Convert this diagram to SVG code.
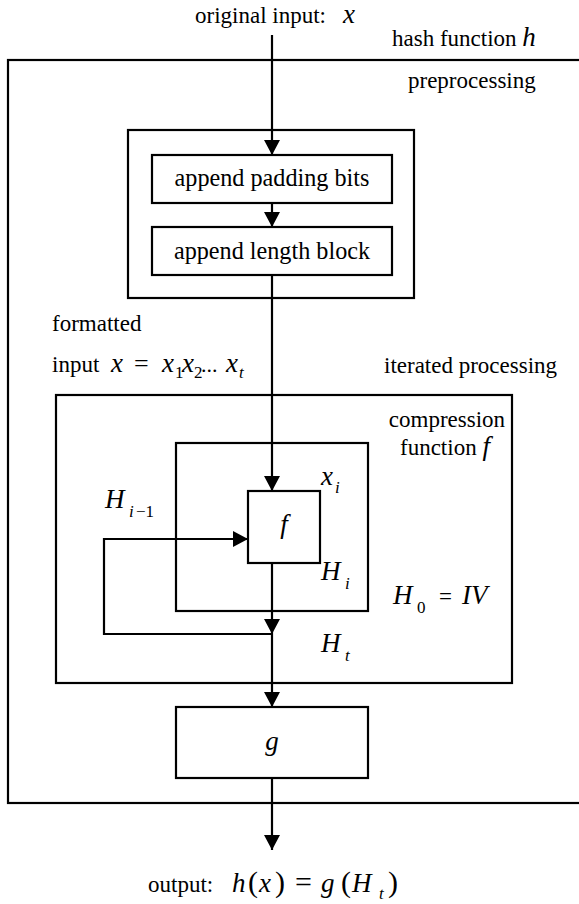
<svg xmlns="http://www.w3.org/2000/svg" width="579" height="904" viewBox="0 0 579 904">
<style>
.box{fill:none;stroke:#000;stroke-width:2.2}
.ln{fill:none;stroke:#000;stroke-width:2.2}
text{font-family:'Liberation Serif','Times New Roman','DejaVu Serif',serif;fill:#000}
.t{font-size:23px}
.bt{font-size:24.2px}
.m{font-style:italic;font-size:27px}
.s{font-style:italic;font-size:17px}
.sn{font-size:17px}
</style>
<defs>
<marker id="ah" markerUnits="userSpaceOnUse" markerWidth="16" markerHeight="16" refX="15" refY="8" orient="auto" viewBox="0 0 16 16">
<path d="M0,0 L15,8 L0,16 z" fill="#000"/>
</marker>
</defs>
<rect width="579" height="904" fill="#fff"/>

<g id="hash-function">
<rect class="box" x="8" y="60" width="600" height="743"/>
<text class="t" x="392" y="46">hash function <tspan class="m" font-size="26">h</tspan></text>
</g>

<g id="preprocessing">
<rect class="box" x="128" y="130" width="286" height="168"/>
<text class="t" x="408" y="88" font-size="23.6">preprocessing</text>
</g>

<g id="append-padding">
<rect class="box" x="152" y="155" width="240" height="48"/>
<text class="bt" x="272" y="186" text-anchor="middle">append padding bits</text>
</g>

<g id="append-length">
<rect class="box" x="152" y="227" width="240" height="48"/>
<text class="bt" x="272" y="259" text-anchor="middle">append length block</text>
</g>

<g id="iterated">
<rect class="box" x="56" y="395" width="456" height="288"/>
<text class="t" x="384" y="373" font-size="24">iterated processing</text>
<text class="m" x="393" y="604" font-size="30">H</text>
<text class="sn" x="417" y="613">0</text>
<text class="t" x="439" y="604" font-size="26">=</text>
<text class="m" x="462" y="604" font-size="30">IV</text>
</g>

<g id="compression">
<rect class="box" x="176" y="443" width="192" height="168"/>
<text class="t" x="447" y="427" text-anchor="middle">compression</text>
<text class="t" x="400" y="455">function <tspan class="m" font-size="26">f</tspan></text>
</g>

<g id="f-box">
<rect class="box" x="248" y="491" width="72" height="72"/>
<text class="m" x="284" y="533" text-anchor="middle">f</text>
</g>

<g id="g-box">
<rect class="box" x="176" y="707" width="192" height="71"/>
<text class="m" x="272" y="750" text-anchor="middle">g</text>
</g>

<g id="labels">
<text class="t" x="195" y="23">original input:<tspan class="m" font-size="25" x="343">x</tspan></text>
<text class="t" x="52" y="331">formatted</text>
<text class="t" x="52" y="372">input<tspan class="m" font-size="27" x="111">x</tspan><tspan x="134" font-size="26">=</tspan><tspan class="m" font-size="27" x="162">x</tspan><tspan class="sn" x="175" dy="6">1</tspan><tspan class="m" font-size="27" x="182" dy="-6">x</tspan><tspan class="sn" x="194" dy="6">2</tspan><tspan x="201" dy="-6" font-size="22">...</tspan><tspan class="m" font-size="27" x="226">x</tspan><tspan class="s" x="239" dy="6">t</tspan></text>
<text class="m" x="321" y="485">x</text>
<text class="s" x="335" y="493">i</text>
<text class="m" x="105" y="508" font-size="30">H</text>
<text class="s" x="129" y="517">i</text>
<text class="sn" x="136" y="517">−1</text>
<text class="m" x="321" y="580" font-size="30">H</text>
<text class="s" x="345" y="589">i</text>
<text class="m" x="321" y="652" font-size="30">H</text>
<text class="s" x="345" y="661">t</text>
<text class="t" x="148" y="892">output:<tspan class="m" font-size="30" x="232">h</tspan><tspan font-size="30" x="248">(</tspan><tspan class="m" font-size="30" x="259">x</tspan><tspan font-size="30" x="275">)</tspan><tspan font-size="30" x="295">=</tspan><tspan class="m" font-size="30" x="321">g</tspan><tspan font-size="30" x="341">(</tspan><tspan class="m" font-size="30" x="352">H</tspan><tspan class="s" x="379" dy="7">t</tspan><tspan font-size="30" x="388" dy="-7">)</tspan></text>
</g>

<g id="connectors">
<line class="ln" x1="272" y1="35" x2="272" y2="155" marker-end="url(#ah)"/>
<line class="ln" x1="272" y1="203" x2="272" y2="227" marker-end="url(#ah)"/>
<line class="ln" x1="272" y1="275" x2="272" y2="491" marker-end="url(#ah)"/>
<line class="ln" x1="272" y1="563" x2="272" y2="634" marker-end="url(#ah)"/>
<line class="ln" x1="272" y1="634" x2="272" y2="707" marker-end="url(#ah)"/>
<polyline class="ln" points="272,634 104,634 104,539 248,539" marker-end="url(#ah)"/>
<line class="ln" x1="272" y1="778" x2="272" y2="850" marker-end="url(#ah)"/>
</g>
</svg>
